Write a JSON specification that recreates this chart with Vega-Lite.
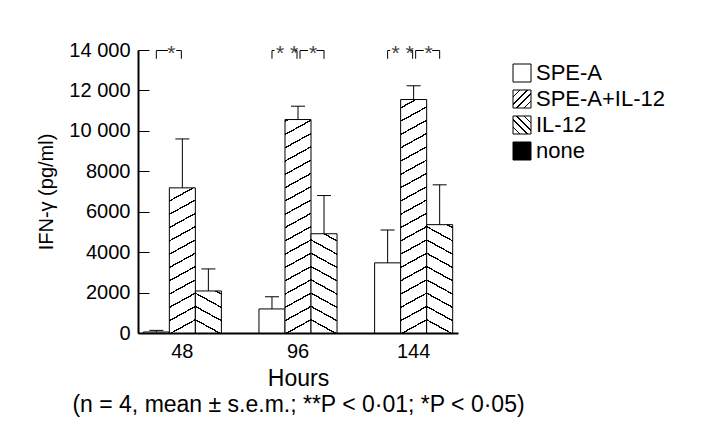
{
  "$schema": "https://vega.github.io/schema/vega-lite/v6.json",
  "width": 320,
  "height": 283,
  "autosize": {"type": "none"},
  "padding": {"left": 138, "top": 50, "right": 252, "bottom": 107},
  "background": "white",
  "config": {"view": {"stroke": null}, "font": "Liberation Sans"},
  "params": [
    {"name": "hatch", "value": [
      {"offset": 0, "color": "#000"}, {"offset": 0.0028, "color": "#000"}, {"offset": 0.0028, "color": "#fff"},
      {"offset": 0.0472, "color": "#fff"}, {"offset": 0.0472, "color": "#000"}, {"offset": 0.0528, "color": "#000"}, {"offset": 0.0528, "color": "#fff"},
      {"offset": 0.0972, "color": "#fff"}, {"offset": 0.0972, "color": "#000"}, {"offset": 0.1028, "color": "#000"}, {"offset": 0.1028, "color": "#fff"},
      {"offset": 0.1472, "color": "#fff"}, {"offset": 0.1472, "color": "#000"}, {"offset": 0.1528, "color": "#000"}, {"offset": 0.1528, "color": "#fff"},
      {"offset": 0.1972, "color": "#fff"}, {"offset": 0.1972, "color": "#000"}, {"offset": 0.2028, "color": "#000"}, {"offset": 0.2028, "color": "#fff"},
      {"offset": 0.2472, "color": "#fff"}, {"offset": 0.2472, "color": "#000"}, {"offset": 0.2528, "color": "#000"}, {"offset": 0.2528, "color": "#fff"},
      {"offset": 0.2972, "color": "#fff"}, {"offset": 0.2972, "color": "#000"}, {"offset": 0.3028, "color": "#000"}, {"offset": 0.3028, "color": "#fff"},
      {"offset": 0.3472, "color": "#fff"}, {"offset": 0.3472, "color": "#000"}, {"offset": 0.3528, "color": "#000"}, {"offset": 0.3528, "color": "#fff"},
      {"offset": 0.3972, "color": "#fff"}, {"offset": 0.3972, "color": "#000"}, {"offset": 0.4028, "color": "#000"}, {"offset": 0.4028, "color": "#fff"},
      {"offset": 0.4472, "color": "#fff"}, {"offset": 0.4472, "color": "#000"}, {"offset": 0.4528, "color": "#000"}, {"offset": 0.4528, "color": "#fff"},
      {"offset": 0.4972, "color": "#fff"}, {"offset": 0.4972, "color": "#000"}, {"offset": 0.5028, "color": "#000"}, {"offset": 0.5028, "color": "#fff"},
      {"offset": 0.5472, "color": "#fff"}, {"offset": 0.5472, "color": "#000"}, {"offset": 0.5528, "color": "#000"}, {"offset": 0.5528, "color": "#fff"},
      {"offset": 0.5972, "color": "#fff"}, {"offset": 0.5972, "color": "#000"}, {"offset": 0.6028, "color": "#000"}, {"offset": 0.6028, "color": "#fff"},
      {"offset": 0.6472, "color": "#fff"}, {"offset": 0.6472, "color": "#000"}, {"offset": 0.6528, "color": "#000"}, {"offset": 0.6528, "color": "#fff"},
      {"offset": 0.6972, "color": "#fff"}, {"offset": 0.6972, "color": "#000"}, {"offset": 0.7028, "color": "#000"}, {"offset": 0.7028, "color": "#fff"},
      {"offset": 0.7472, "color": "#fff"}, {"offset": 0.7472, "color": "#000"}, {"offset": 0.7528, "color": "#000"}, {"offset": 0.7528, "color": "#fff"},
      {"offset": 0.7972, "color": "#fff"}, {"offset": 0.7972, "color": "#000"}, {"offset": 0.8028, "color": "#000"}, {"offset": 0.8028, "color": "#fff"},
      {"offset": 0.8472, "color": "#fff"}, {"offset": 0.8472, "color": "#000"}, {"offset": 0.8528, "color": "#000"}, {"offset": 0.8528, "color": "#fff"},
      {"offset": 0.8972, "color": "#fff"}, {"offset": 0.8972, "color": "#000"}, {"offset": 0.9028, "color": "#000"}, {"offset": 0.9028, "color": "#fff"},
      {"offset": 0.9472, "color": "#fff"}, {"offset": 0.9472, "color": "#000"}, {"offset": 0.9528, "color": "#000"}, {"offset": 0.9528, "color": "#fff"},
      {"offset": 0.9972, "color": "#fff"}, {"offset": 0.9972, "color": "#000"}, {"offset": 1, "color": "#000"}
    ]},
    {"name": "legHatch", "value": [
      {"offset": 0, "color": "#fff"}, {"offset": 0.18, "color": "#fff"}, {"offset": 0.18, "color": "#000"}, {"offset": 0.22, "color": "#000"}, {"offset": 0.22, "color": "#fff"},
      {"offset": 0.38, "color": "#fff"}, {"offset": 0.38, "color": "#000"}, {"offset": 0.42, "color": "#000"}, {"offset": 0.42, "color": "#fff"},
      {"offset": 0.58, "color": "#fff"}, {"offset": 0.58, "color": "#000"}, {"offset": 0.62, "color": "#000"}, {"offset": 0.62, "color": "#fff"},
      {"offset": 0.78, "color": "#fff"}, {"offset": 0.78, "color": "#000"}, {"offset": 0.82, "color": "#000"}, {"offset": 0.82, "color": "#fff"},
      {"offset": 1, "color": "#fff"}
    ]}
  ],
  "datasets": {
    "bars": [
      {"hour": "48", "group": "SPE-A", "mean": 50, "upper": 130},
      {"hour": "48", "group": "SPE-A+IL-12", "mean": 7180, "upper": 9600},
      {"hour": "48", "group": "IL-12", "mean": 2080, "upper": 3170},
      {"hour": "96", "group": "SPE-A", "mean": 1190, "upper": 1790},
      {"hour": "96", "group": "SPE-A+IL-12", "mean": 10560, "upper": 11220},
      {"hour": "96", "group": "IL-12", "mean": 4910, "upper": 6800},
      {"hour": "144", "group": "SPE-A", "mean": 3470, "upper": 5100},
      {"hour": "144", "group": "SPE-A+IL-12", "mean": 11550, "upper": 12230},
      {"hour": "144", "group": "IL-12", "mean": 5360, "upper": 7330}
    ],
    "brackets": [
      {"hour": "48", "side": "left", "outer": "SPE-A", "label": "*"},
      {"hour": "96", "side": "left", "outer": "SPE-A", "label": "* *"},
      {"hour": "96", "side": "right", "outer": "IL-12", "label": "*"},
      {"hour": "144", "side": "left", "outer": "SPE-A", "label": "* *"},
      {"hour": "144", "side": "right", "outer": "IL-12", "label": "*"}
    ]
  },
  "layer": [
    {
      "data": {"name": "bars"},
      "mark": {"type": "bar", "stroke": "black", "strokeWidth": 1},
      "encoding": {
        "x": {
          "field": "hour", "type": "nominal",
          "scale": {"domain": ["48", "96", "144"], "paddingInner": 0.325, "paddingOuter": 0.046},
          "title": ["Hours", "(n = 4, mean ± s.e.m.; **P < 0·01; *P < 0·05)"],
          "axis": {"labelAngle": 0, "labelFontSize": 20, "labelColor": "black", "labelPadding": 8, "ticks": false,
                   "domainColor": "black", "domainWidth": 2, "titleFontSize": 23, "titleFontWeight": "normal",
                   "titleColor": "black", "titlePadding": 6, "titleLineHeight": 26}
        },
        "xOffset": {"field": "group", "type": "nominal", "scale": {"domain": ["SPE-A", "SPE-A+IL-12", "IL-12"], "paddingInner": 0, "paddingOuter": 0}},
        "y": {
          "field": "mean", "type": "quantitative",
          "scale": {"domain": [0, 14000], "nice": false},
          "title": "IFN-γ (pg/ml)",
          "axis": {"values": [0, 2000, 4000, 6000, 8000, 10000, 12000, 14000],
                   "labelExpr": "datum.value >= 10000 ? replace(format(datum.value, ','), ',', ' ') : format(datum.value, 'd')",
                   "labelFontSize": 20, "labelColor": "black", "domainColor": "black", "domainWidth": 2,
                   "tickColor": "black", "tickSize": -11, "tickWidth": 1, "labelPadding": 19, "grid": false,
                   "titleFontSize": 20, "titleFontWeight": "normal", "titleColor": "black", "titlePadding": 12}
        },
        "fill": {
          "field": "group", "type": "nominal",
          "scale": {"domain": ["SPE-A", "SPE-A+IL-12", "IL-12", "none"],
                    "range": ["white",
                              {"expr": "{gradient:'linear',x1:0,y1:0,x2:1,y2:1,stops:legHatch}"},
                              {"expr": "{gradient:'linear',x1:1,y1:0,x2:0,y2:1,stops:legHatch}"},
                              "black"]},
          "legend": {
            "orient": "none", "legendX": 373, "legendY": 12, "title": null,
            "symbolType": "square", "symbolSize": 324, "symbolStrokeWidth": 1, "symbolStrokeColor": "black",
            "labelFontSize": 22, "labelColor": "black", "labelOffset": 3, "rowPadding": 4
          },
          "condition": [
            {"test": "datum.group === 'SPE-A+IL-12'", "value": {"expr": "{gradient:'linear',x1:-(ceil((datum.mean*0.0202143+14.31)/13.3)*13.3-datum.mean*0.0202143-14.31)*14.31/(204.78+datum.mean*datum.mean*0.000408618),y1:-(ceil((datum.mean*0.0202143+14.31)/13.3)*13.3-datum.mean*0.0202143-14.31)*datum.mean*0.0202143/(204.78+datum.mean*datum.mean*0.000408618),x2:(266-(ceil((datum.mean*0.0202143+14.31)/13.3)*13.3-datum.mean*0.0202143-14.31))*14.31/(204.78+datum.mean*datum.mean*0.000408618),y2:(266-(ceil((datum.mean*0.0202143+14.31)/13.3)*13.3-datum.mean*0.0202143-14.31))*datum.mean*0.0202143/(204.78+datum.mean*datum.mean*0.000408618),stops:hatch}"}},
            {"test": "datum.group === 'IL-12'", "value": {"expr": "{gradient:'linear',x1:1+(ceil((datum.mean*0.0202143+14.31)/13.3)*13.3-datum.mean*0.0202143-14.31)*14.31/(204.78+datum.mean*datum.mean*0.000408618),y1:-(ceil((datum.mean*0.0202143+14.31)/13.3)*13.3-datum.mean*0.0202143-14.31)*datum.mean*0.0202143/(204.78+datum.mean*datum.mean*0.000408618),x2:1-(266-(ceil((datum.mean*0.0202143+14.31)/13.3)*13.3-datum.mean*0.0202143-14.31))*14.31/(204.78+datum.mean*datum.mean*0.000408618),y2:(266-(ceil((datum.mean*0.0202143+14.31)/13.3)*13.3-datum.mean*0.0202143-14.31))*datum.mean*0.0202143/(204.78+datum.mean*datum.mean*0.000408618),stops:hatch}"}}
          ]
        }
      }
    },
    {
      "data": {"name": "bars"},
      "mark": {"type": "rule", "color": "black", "strokeWidth": 1},
      "encoding": {
        "x": {"field": "hour", "type": "nominal"},
        "xOffset": {"field": "group", "type": "nominal"},
        "y": {"field": "mean", "type": "quantitative"},
        "y2": {"field": "upper"}
      }
    },
    {
      "data": {"name": "bars"},
      "mark": {"type": "tick", "orient": "horizontal", "size": 14, "thickness": 1, "color": "black", "opacity": 1},
      "encoding": {
        "x": {"field": "hour", "type": "nominal"},
        "xOffset": {"field": "group", "type": "nominal"},
        "y": {"field": "upper", "type": "quantitative"}
      }
    },
    {
      "data": {"name": "brackets"},
      "mark": {"type": "rule", "color": "black", "strokeWidth": 1},
      "encoding": {
        "x": {"field": "hour", "type": "nominal"},
        "xOffset": {"field": "outer", "type": "nominal"},
        "y": {"datum": 13975},
        "y2": {"datum": 13565}
      }
    },
    {
      "data": {"name": "brackets"},
      "mark": {"type": "rule", "color": "black", "strokeWidth": 1, "xOffset": {"expr": "datum.side === 'left' ? -1 : 2"}},
      "encoding": {
        "x": {"field": "hour", "type": "nominal"},
        "y": {"datum": 13975},
        "y2": {"datum": 13565}
      }
    },
    {
      "data": {"name": "brackets"},
      "mark": {"type": "rule", "color": "black", "strokeWidth": 1, "x2Offset": {"expr": "datum.side === 'left' ? (datum.label === '*' ? -14.5 : -23.5) : 18.5"}},
      "encoding": {
        "x": {"field": "hour", "type": "nominal"},
        "xOffset": {"field": "outer", "type": "nominal"},
        "x2": {"field": "hour"},
        "y": {"datum": 13975}
      }
    },
    {
      "data": {"name": "brackets"},
      "mark": {"type": "rule", "color": "black", "strokeWidth": 1,
               "xOffset": {"expr": "datum.side === 'left' ? (datum.label === '*' ? -6 : -3.5) : 2"},
               "x2Offset": {"expr": "datum.side === 'left' ? -1 : 10"}},
      "encoding": {
        "x": {"field": "hour", "type": "nominal"},
        "x2": {"field": "hour"},
        "y": {"datum": 13975}
      }
    },
    {
      "data": {"name": "brackets"},
      "mark": {"type": "text", "fontSize": 21, "color": "#444444", "baseline": "alphabetic", "align": "center",
               "dx": {"expr": "datum.side === 'left' ? -11 : 15"}},
      "encoding": {
        "x": {"field": "hour", "type": "nominal"},
        "y": {"datum": 13500},
        "text": {"field": "label"}
      }
    }
  ]
}
